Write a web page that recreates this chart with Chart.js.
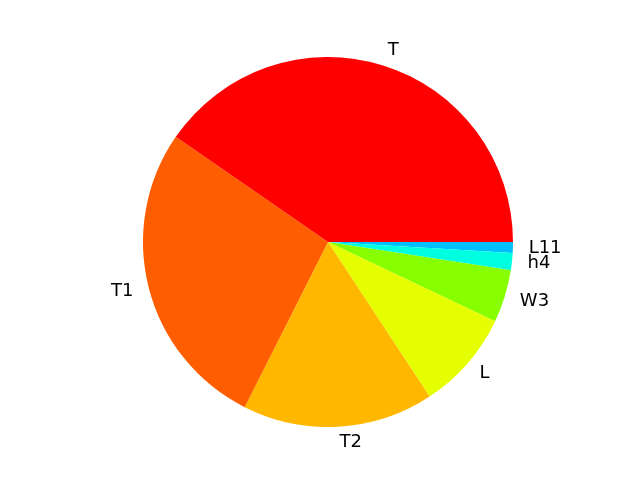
<!DOCTYPE html>
<html>
<head>
<meta charset="utf-8">
<script src="https://cdn.jsdelivr.net/npm/chart.js@4/dist/chart.umd.min.js"></script>
<style>
  html, body { margin: 0; padding: 0; background: #fff; }
  #wrap { width: 640px; height: 480px; }
</style>
</head>
<body>
<div id="wrap"><canvas id="pieChart" width="640" height="480"></canvas></div>
<script>
// slices in matplotlib order (counterclockwise from 3 o'clock)
const labels = ['T', 'T1', 'T2', 'L', 'W3', 'h4', 'L11'];
const values = [40.4, 27.2, 16.7, 8.7, 4.6, 1.5, 0.95];
const colors = ['#ff0000', '#ff5e00', '#ffb700', '#e6ff00', '#88ff00', '#00ffe0', '#00bfff'];

// Chart.js draws clockwise, so feed it reversed and start at 3 o'clock
const rLabels = labels.slice().reverse();
const rValues = values.slice().reverse();
const rColors = colors.slice().reverse();

const outsideLabels = {
    id: 'outsideLabels',
    afterDraw(chart) {
        const ctx = chart.ctx;
        const arcs = chart.getDatasetMeta(0).data;
        ctx.save();
        ctx.font = '18px "DejaVu Sans"';
        ctx.fillStyle = '#000';
        ctx.textBaseline = 'middle';
        arcs.forEach((arc, i) => {
            const mid = (arc.startAngle + arc.endAngle) / 2;
            const r = arc.outerRadius * 1.085;
            const x = arc.x + Math.cos(mid) * r;
            const y = arc.y + Math.sin(mid) * r;
            ctx.textAlign = Math.cos(mid) >= 0 ? 'left' : 'right';
            ctx.fillText(rLabels[i], x, y);
        });
        ctx.restore();
    }
};

new Chart(document.getElementById('pieChart').getContext('2d'), {
    type: 'pie',
    data: {
        labels: rLabels,
        datasets: [{
            data: rValues,
            backgroundColor: rColors,
            borderWidth: 0
        }]
    },
    options: {
        responsive: false,
        animation: false,
        rotation: 90,
        layout: { padding: { left: 143, right: 127, top: 57, bottom: 53 } },
        plugins: {
            legend: { display: false },
            tooltip: { enabled: false }
        },
        events: []
    },
    plugins: [outsideLabels]
});
</script>
</body>
</html>
